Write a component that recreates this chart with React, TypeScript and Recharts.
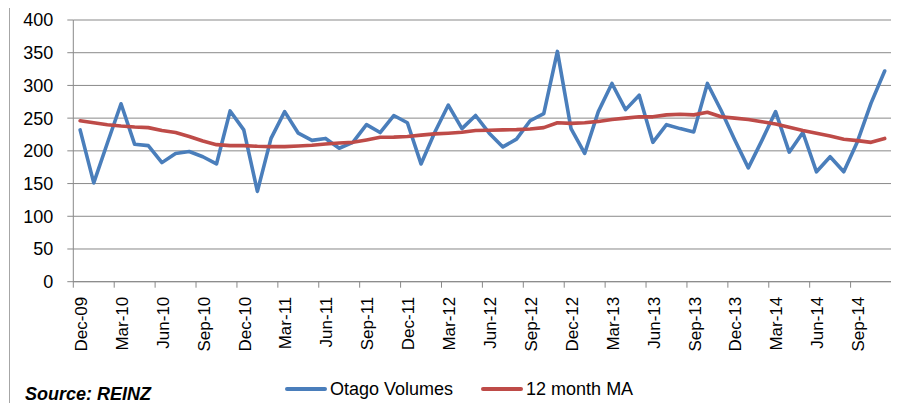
import { ComposedChart, Line, XAxis, YAxis, CartesianGrid } from 'recharts'

const months = [
  'Dec-09', 'Jan-10', 'Feb-10', 'Mar-10', 'Apr-10', 'May-10', 'Jun-10', 'Jul-10', 'Aug-10', 'Sep-10', 'Oct-10', 'Nov-10',
  'Dec-10', 'Jan-11', 'Feb-11', 'Mar-11', 'Apr-11', 'May-11', 'Jun-11', 'Jul-11', 'Aug-11', 'Sep-11', 'Oct-11', 'Nov-11',
  'Dec-11', 'Jan-12', 'Feb-12', 'Mar-12', 'Apr-12', 'May-12', 'Jun-12', 'Jul-12', 'Aug-12', 'Sep-12', 'Oct-12', 'Nov-12',
  'Dec-12', 'Jan-13', 'Feb-13', 'Mar-13', 'Apr-13', 'May-13', 'Jun-13', 'Jul-13', 'Aug-13', 'Sep-13', 'Oct-13', 'Nov-13',
  'Dec-13', 'Jan-14', 'Feb-14', 'Mar-14', 'Apr-14', 'May-14', 'Jun-14', 'Jul-14', 'Aug-14', 'Sep-14', 'Oct-14', 'Nov-14',
]

const otagoVolumes = [
  232, 151, 212, 272, 210, 208, 182, 196, 199, 191, 180, 261,
  232, 138, 219, 260, 227, 216, 219, 204, 213, 240, 228, 254,
  243, 180, 228, 270, 234, 254, 227, 206, 218, 246, 257, 352,
  234, 196, 260, 303, 263, 285, 213, 240, 234, 229, 303, 262,
  217, 174, 216, 260, 198, 228, 168, 191, 168, 214, 273, 322,
]

const movingAverage = [
  246, 243, 240, 238, 236.5, 235.5, 231, 228, 222, 215, 209.5, 208,
  208, 207, 206.5, 206.5, 207.5, 208.5, 210.5, 212, 213, 216.7, 220.8, 221,
  222, 224, 226, 227, 228.4, 231, 231.5, 232, 232.5, 233.5, 235.5, 243,
  242, 243, 245, 248, 250, 252, 252, 255, 256, 255, 259, 252,
  250, 248, 244.6, 241, 236, 231, 227, 222.8, 217.7, 215.6, 213, 219,
]

const yTicks = [0, 50, 100, 150, 200, 250, 300, 350, 400]

const series = [
  { key: 'volumes', name: 'Otago Volumes', color: '#4A7EBB' },
  { key: 'ma', name: '12 month MA', color: '#BE4B48' },
]

const data = months.map((month, i) => ({
  month,
  volumes: otagoVolumes[i],
  ma: movingAverage[i],
}))

const W = 891
const H = 395
const MARGIN = { top: 12, right: 7.5, bottom: 0, left: 0 }
const Y_W = 65.3
const X_H = 121.3
const GRID = '#898989'
const FONT = '"Liberation Sans", Arial, sans-serif'
const BAND = (W - MARGIN.right - Y_W) / months.length

const XTick = (props: any) => {
  const { x, y, payload } = props
  const idx = months.indexOf(payload.value)
  const tx = x
  const ty = y + 15
  return (
    <g>
      <line x1={x - BAND / 2} y1={y} x2={x - BAND / 2} y2={y + 6} stroke={GRID} />
      {idx + 3 >= months.length && (
        <line x1={x + BAND * 2.5} y1={y} x2={x + BAND * 2.5} y2={y + 6} stroke={GRID} />
      )}
      <text
        x={tx}
        y={ty}
        dy="0.4em"
        textAnchor="end"
        transform={`rotate(-90, ${tx}, ${ty})`}
        fontSize={17}
        fontFamily={FONT}
        fill="#000"
      >
        {payload.value}
      </text>
    </g>
  )
}

export default function App() {
  return (
    <div style={{ position: 'relative', width: W, height: H, fontFamily: FONT }}>
      <div
        style={{ position: 'absolute', left: 1, top: -8, width: 0, height: H + 8, borderLeft: '1px solid #a6a6a6' }}
      />
      <ComposedChart width={W} height={H} data={data} margin={MARGIN}>
        <CartesianGrid vertical={false} stroke={GRID} />
        <XAxis
          dataKey="month"
          scale="band"
          interval={2}
          height={X_H}
          tickSize={0}
          tickMargin={0}
          tickLine={false}
          axisLine={{ stroke: GRID }}
          tick={<XTick />}
        />
        <YAxis
          width={Y_W}
          domain={[0, 400]}
          ticks={yTicks}
          tickSize={6}
          tickMargin={14}
          axisLine={{ stroke: GRID }}
          tickLine={{ stroke: GRID }}
          tick={{ fontSize: 18, fill: '#000', fontFamily: FONT }}
        />
        {series.map((s) => (
          <Line
            key={s.key}
            dataKey={s.key}
            name={s.name}
            stroke={s.color}
            strokeWidth={3.6}
            strokeLinejoin="round"
            strokeLinecap="round"
            dot={false}
            activeDot={false}
            isAnimationActive={false}
          />
        ))}
      </ComposedChart>
      <div
        style={{ position: 'absolute', left: 17, top: 377, fontSize: 18, lineHeight: '18px', fontWeight: 'bold', fontStyle: 'italic', whiteSpace: 'nowrap' }}
      >
        Source: REINZ
      </div>
      <div
        style={{ position: 'absolute', left: 277, top: 372, display: 'flex', alignItems: 'center', gap: 28, fontSize: 18, lineHeight: '18px', whiteSpace: 'nowrap' }}
      >
        {series.map((s) => (
          <div key={s.key} style={{ display: 'flex', alignItems: 'center' }}>
            <div style={{ width: 42, height: 4, borderRadius: 2, background: s.color, marginRight: 3 }} />
            <span>{s.name}</span>
          </div>
        ))}
      </div>
    </div>
  )
}
